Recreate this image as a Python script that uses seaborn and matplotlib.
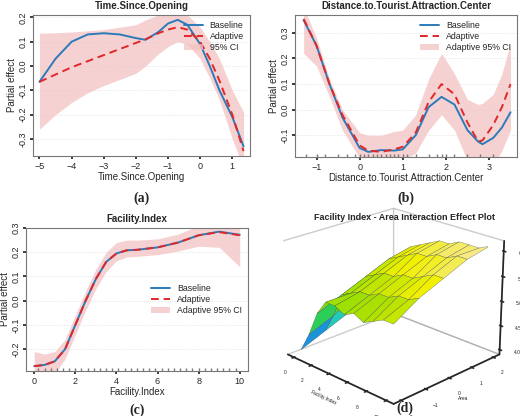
import numpy as np
import matplotlib
matplotlib.use("Agg")
import matplotlib.pyplot as plt
import seaborn as sns
from matplotlib.colors import LinearSegmentedColormap

sns.set_theme(style="white")
plt.rcParams['font.family'] = ['Liberation Sans', 'DejaVu Sans']

# ---- panel (a) ----
a_x = [-5, -4.5, -4, -3.5, -3, -2.5, -2, -1.7, -1.3, -1, -0.7, -0.4, 0, 0.3, 0.6, 1, 1.35]
a_base = [-0.065, 0.03, 0.10, 0.13, 0.135, 0.13, 0.115, 0.108, 0.14, 0.175, 0.19, 0.17, 0.09, 0.0, -0.1, -0.21, -0.33]
a_adap = [-0.065, -0.035, -0.005, 0.02, 0.045, 0.07, 0.095, 0.11, 0.135, 0.15, 0.16, 0.15, 0.10, 0.03, -0.06, -0.20, -0.35]
a_lo = [-0.26, -0.20, -0.15, -0.11, -0.08, -0.055, -0.03, -0.0, 0.05, 0.08, 0.10, 0.09, 0.03, -0.05, -0.14, -0.30, -0.42]
a_hi = [0.135, 0.137, 0.14, 0.145, 0.15, 0.16, 0.17, 0.19, 0.21, 0.22, 0.23, 0.21, 0.16, 0.10, 0.03, -0.10, -0.19]

# ---- panel (b) ----
b_x = [-1.3, -1, -0.7, -0.4, 0, 0.2, 0.5, 0.8, 1, 1.3, 1.6, 1.9, 2.2, 2.5, 2.75, 2.85, 3.1, 3.3, 3.5]
b_base = [0.35, 0.25, 0.10, -0.03, -0.15, -0.165, -0.158, -0.16, -0.155, -0.10, 0.01, 0.05, 0.02, -0.08, -0.125, -0.135, -0.11, -0.07, -0.01]
b_adap = [0.355, 0.25, 0.10, -0.02, -0.14, -0.16, -0.165, -0.155, -0.145, -0.09, 0.03, 0.10, 0.06, -0.05, -0.125, -0.12, -0.06, 0.01, 0.10]
b_lo = [0.22, 0.17, 0.05, -0.08, -0.19, -0.20, -0.20, -0.20, -0.20, -0.17, -0.08, -0.02, -0.08, -0.20, -0.24, -0.25, -0.22, -0.16, -0.08]
b_hi = [0.40, 0.28, 0.12, 0.0, -0.09, -0.10, -0.10, -0.085, -0.08, -0.02, 0.12, 0.22, 0.14, 0.04, 0.02, 0.025, 0.06, 0.14, 0.26]

# ---- panel (c) ----
c_x = [0, 0.5, 1, 1.5, 2, 2.5, 3, 3.5, 4, 4.5, 5, 6, 7, 8, 9, 10]
c_base = [-0.27, -0.265, -0.25, -0.20, -0.10, 0.0, 0.09, 0.16, 0.195, 0.208, 0.21, 0.22, 0.24, 0.27, 0.285, 0.272]
c_adap = [-0.27, -0.265, -0.25, -0.20, -0.10, 0.0, 0.09, 0.16, 0.195, 0.208, 0.21, 0.22, 0.24, 0.27, 0.283, 0.270]
c_lo = [-0.33, -0.32, -0.30, -0.24, -0.14, -0.04, 0.05, 0.12, 0.165, 0.18, 0.183, 0.19, 0.205, 0.225, 0.22, 0.14]
c_hi = [-0.21, -0.22, -0.21, -0.16, -0.06, 0.04, 0.13, 0.20, 0.24, 0.25, 0.25, 0.255, 0.275, 0.31, 0.33, 0.34]
c_rug = [0.2, 0.5, 0.8, 1.1, 1.4, 1.7, 2.0, 2.3, 2.6, 2.9, 3.2, 3.5, 3.8, 4.1, 4.4, 4.7, 5.0, 5.3, 5.6, 5.9, 6.2, 6.5, 6.8, 7.1, 7.4, 7.7, 8.0, 8.3, 8.6, 8.9, 9.2, 9.5, 9.8]
b_rug = [-1.25, -1.0, -0.8, -0.5, -0.3, -0.1, 0.0, 0.1, 0.2, 0.3, 0.4, 0.5, 0.6, 0.7, 0.8, 0.9, 1.0, 1.1, 1.3, 1.6, 1.8, 1.9, 2.0, 2.2, 2.5, 2.8, 3.1]

# ---- panel (d) surface grid ----
d_fac = [0, 1, 2, 3, 4, 5, 6, 7, 8, 9, 10]
d_area = [-2, -1, 0, 1, 2]
d_z = [[4.0, 4.2, 4.4, 4.7, 5.0],
       [4.4, 4.6, 4.9, 5.1, 5.3],
       [4.9, 5.1, 5.3, 5.5, 5.6],
       [5.2, 5.2, 5.4, 5.6, 5.7],
       [5.2, 5.3, 5.5, 5.7, 5.8],
       [5.1, 5.3, 5.5, 5.8, 5.9],
       [5.2, 5.4, 5.6, 5.8, 5.9],
       [5.1, 5.4, 5.6, 5.9, 6.0],
       [5.2, 5.5, 5.7, 5.9, 6.0],
       [5.3, 5.5, 5.8, 6.0, 6.0],
       [5.3, 5.6, 5.8, 6.0, 6.1]]

BLUE = "#2b7bba"
RED = "#e0282a"
PINK = "#f4c2c2"

fig = plt.figure(figsize=(5.2, 4.16), dpi=100)

def panel(rect, x, base, adap, lo, hi, title, xlabel, ylim, xticks, yticks, ci_label, legend_loc, rug=None):
    ax = fig.add_axes(rect)
    ax.fill_between(x, lo, hi, color=PINK, alpha=0.75, lw=0, label=ci_label)
    sns.lineplot(x=x, y=base, ax=ax, color=BLUE, lw=1.4, label="Baseline", sort=False)
    sns.lineplot(x=x, y=adap, ax=ax, color=RED, lw=1.4, ls=(0, (4, 2.5)), label="Adaptive", sort=False)
    for yt in yticks:
        ax.axhline(yt, color="#dddddd", lw=0.6, ls=":", zorder=0)
    if rug is not None:
        sns.rugplot(x=rug, ax=ax, color="#777777", height=0.02, lw=0.5)
    ax.set_ylim(*ylim)
    ax.set_xticks(xticks)
    ax.set_yticks(yticks)
    ax.set_yticklabels([f"{v:.1f}" for v in yticks], rotation=90, va="center")
    ax.tick_params(labelsize=6.5, length=2.5, pad=1.5, left=True, bottom=True)
    ax.set_title(title, fontsize=7, fontweight="bold", pad=4)
    ax.set_xlabel(xlabel, fontsize=7, labelpad=1)
    ax.set_ylabel("Partial effect", fontsize=7, labelpad=1)
    for s in ax.spines.values():
        s.set_color("#777777"); s.set_linewidth(0.8)
    h, l = ax.get_legend_handles_labels()
    order = [l.index("Baseline"), l.index("Adaptive"), l.index(ci_label)]
    ax.legend([h[i] for i in order], [l[i] for i in order], loc=legend_loc, fontsize=6.3,
              frameon=False, handlelength=2.2, labelspacing=0.2, borderaxespad=0.3)
    return ax

W, H = 520, 416
def r(l, t, rgt, b):
    return [l / W, 1 - b / H, (rgt - l) / W, (b - t) / H]

axa = panel(r(33, 15, 250, 156), a_x, a_base, a_adap, a_lo, a_hi, "Time.Since.Opening", "Time.Since.Opening",
            (-0.37, 0.21), [-5, -4, -3, -2, -1, 0, 1], [-0.3, -0.2, -0.1, 0.0, 0.1, 0.2], "95% CI", "upper right")
axa.set_xlim(-5.2, 1.55)
axb = panel(r(295, 15, 517, 157), b_x, b_base, b_adap, b_lo, b_hi, "Distance.to.Tourist.Attraction.Center",
            "Distance.to.Tourist.Attraction.Center", (-0.185, 0.37), [-1, 0, 1, 2, 3], [-0.1, 0.0, 0.1, 0.2, 0.3],
            "Adaptive 95% CI", "upper right", rug=b_rug)
axb.set_xlim(-1.5, 3.65)
axc = panel(r(26, 228, 248, 371), c_x, c_base, c_adap, c_lo, c_hi, "Facility.Index", "Facility.Index",
            (-0.29, 0.3), [0, 2, 4, 6, 8, 10], [-0.2, -0.1, 0.0, 0.1, 0.2, 0.3], "Adaptive 95% CI",
            "center right", rug=c_rug)
axc.set_xlim(-0.4, 10.4)

# ---- panel (d) ----
cmap = LinearSegmentedColormap.from_list("s", ["#1010c0", "#20c8e8", "#30d030", "#a8e000", "#f0f000", "#f8e8a0"])
axd = fig.add_axes(r(262, 205, 520, 398), projection="3d")
Fx, Ay = np.meshgrid(d_fac, d_area, indexing="ij")
Z = np.array(d_z)
axd.plot_surface(Fx, Ay, Z, cmap=cmap, vmin=4.0, vmax=6.1, edgecolor="#444444", lw=0.2, rstride=1, cstride=1)
axd.view_init(elev=22, azim=-45)
axd.set_zlim(3.9, 6.2)
axd.set_box_aspect((1, 1, 0.8), zoom=1.25)
for axis in (axd.xaxis, axd.yaxis, axd.zaxis):
    axis.pane.fill = False
    axis.pane.set_edgecolor("#999999")
axd.grid(False)
axd.tick_params(labelsize=3.5, pad=-2)
axd.set_xticks([0, 2, 4, 6, 8, 10]); axd.set_yticks([-2, -1, 0, 1, 2]); axd.set_zticks([4.0, 4.5, 5.0, 5.5, 6.0])
axd.set_xlabel("Facility.Index", fontsize=3.5, labelpad=-12)
axd.set_ylabel("Area", fontsize=3.5, labelpad=-12)
axd.set_zlabel("linear predictor", fontsize=3.5, labelpad=-12)
fig.text(404 / W, 1 - 218 / H, "Facility Index - Area Interaction Effect Plot", ha="center", va="center",
         fontsize=6.5, fontweight="bold")

for lbl, x, y in [("(a)", 141, 198), ("(b)", 406, 198), ("(c)", 137, 410), ("(d)", 405, 408)]:
    fig.text(x / W, 1 - y / H, lbl, ha="center", va="center", fontsize=10, fontweight="bold",
             family=["Liberation Serif", "DejaVu Serif"])

fig.savefig("out.png", dpi=100)
